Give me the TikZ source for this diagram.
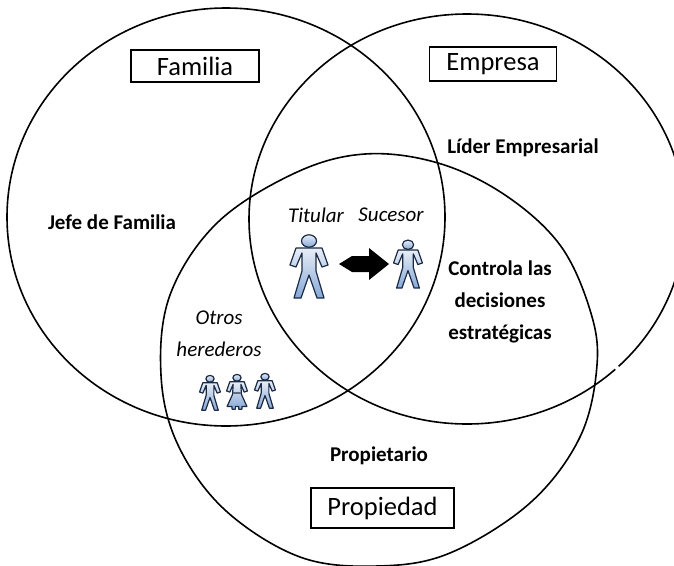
\documentclass[tikz,border=0pt]{standalone}
\usepackage{fontspec}
\setmainfont{Carlito}
\definecolor{figline}{HTML}{1B2A44}
\definecolor{figlow}{HTML}{86A8D6}
\definecolor{figtop}{HTML}{E8EEF7}
\begin{document}
\begin{tikzpicture}[x=1pt,y=-1pt,
  ring/.style={draw=black,line width=1.6pt},
  lab/.style={font=\fontsize{21}{32}\selectfont\bfseries,align=center,inner sep=0pt},
  ital/.style={font=\fontsize{21}{32}\selectfont\itshape,align=center,inner sep=0pt},
  titlebox/.style={draw=black,line width=1.1pt,fill=white,font=\fontsize{26.5}{30}\selectfont,inner sep=0pt,anchor=center},
  figfill/.style={draw=figline,line width=1.2pt,line join=round,top color=figtop,bottom color=figlow},
  person/.pic={
    \path[figfill]
      (-11,-17) -- (11,-17) -- (13,-17) -- (19,0) -- (13,2) -- (7,-12) -- (7,6) -- (15,33) -- (8,33) -- (0,10)
      -- (-8,33) -- (-15,33) -- (-7,6) -- (-7,-12) -- (-13,2) -- (-19,0) -- (-13,-17) -- cycle;
    \path[figfill] (0,-24) ellipse (7.5 and 6.2);
  },
  skirtperson/.pic={
    \path[figfill]
      (-11,-17) -- (11,-17) -- (13,-17) -- (19,0) -- (13,2) -- (7,-12) -- (8,6) -- (18,28) -- (9,28) -- (9,33) -- (3,33) -- (3,28)
      -- (-3,28) -- (-3,33) -- (-9,33) -- (-9,28) -- (-18,28) -- (-8,6) -- (-7,-12) -- (-13,2) -- (-19,0) -- (-13,-17) -- cycle;
    \draw[line width=1.6pt,figline!70] (-8,4) -- (8,4);
    \path[figfill] (0,-24) ellipse (7.5 and 6.2);
  }]
\useasboundingbox (0,0) rectangle (674,565);
\begin{scope}
\clip (0,0) rectangle (674,565);
\path[ring] (226,217) circle[x radius=219,y radius=209];
\path[ring] (467,219) circle[x radius=218,y radius=205];
\draw[ring] plot[smooth cycle,tension=0.6] coordinates {
 (365,154) (438,163) (505,195) (560,245) (590,310) (597,365) (580,437) (530,503)
 (450,553) (378,566) (300,557) (225,510) (178,445) (161,375) (170,295) (217,223) (295,173)};
\end{scope}
\coordinate (gapa) at (615.5,369.5);
\coordinate (gapb) at (618.5,366.5);
\draw[white,line width=3pt] (gapa) -- (gapb);

\node[titlebox,minimum width=128,minimum height=32] (fam) at (195,66) {Familia};
\node[titlebox,minimum width=127,minimum height=34] (emp) at (493,64) {Empresa};
\node[titlebox,minimum width=143,minimum height=40] (prop) at (382.5,508) {Propiedad};

\node[lab] (jefe) at (112,222) {Jefe de Familia};
\node[lab] (lider) at (523,148) {Líder Empresarial};
\node[lab] (prop2) at (379,456) {Propietario};
\node[lab] (ctrl) at (500,302) {Controla las\\decisiones\\estratégicas};

\node[ital] (tit) at (316,215) {Titular};
\node[ital] (suc) at (391,215) {Sucesor};
\node[ital] (otros) at (219,334) {Otros\\herederos};

\pic at (309,265) {person};
\pic[scale=0.76] at (408,263) {person};
\pic[scale=0.55] at (210,392) {person};
\pic[scale=0.55] at (237,391) {skirtperson};
\pic[scale=0.55] at (265,390) {person};

\fill[black] (339,264) -- (352,256) -- (369,256) -- (369,248) -- (389,264) -- (369,280) -- (369,272) -- (352,272) -- cycle;
\end{tikzpicture}
\end{document}
